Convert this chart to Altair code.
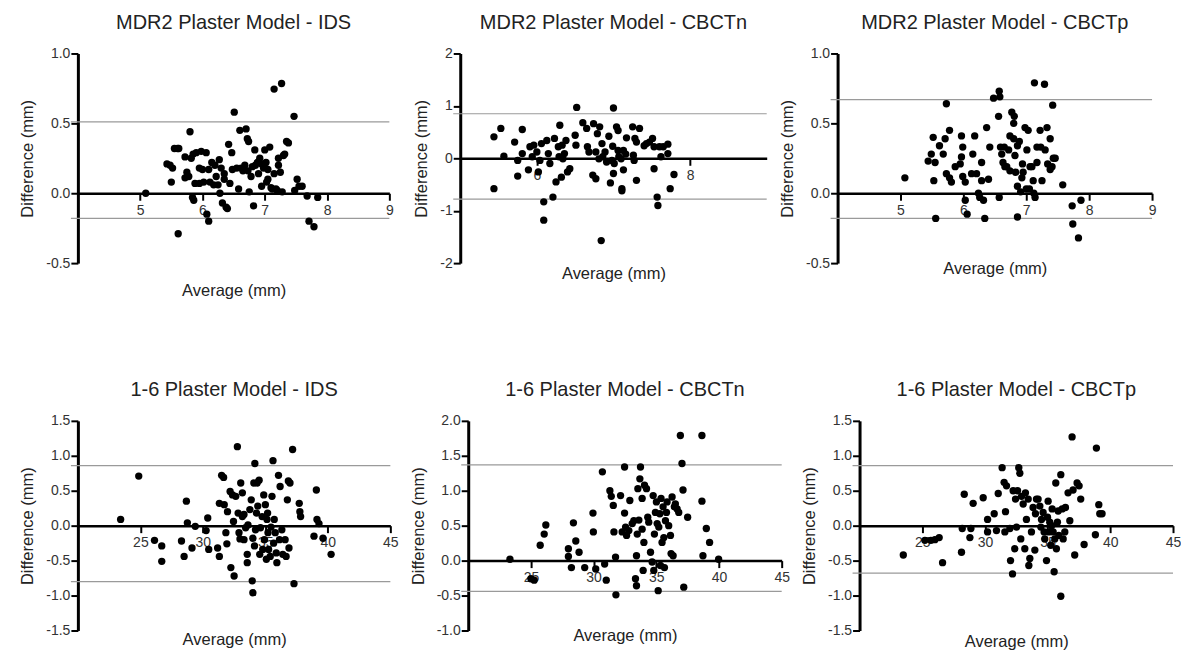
import altair as alt
import pandas as pd

# ---------------- data ----------------
# Panel 1: MDR2 Plaster Model - IDS
p1_x = [5.09, 5.61, 5.43, 5.48, 5.50, 5.52, 5.55, 5.60, 5.62, 5.80, 5.72, 5.75, 5.72, 5.78, 5.82, 5.85,
        5.84, 5.86, 5.88, 5.90, 5.95, 5.98, 6.00, 6.02, 6.06, 6.07, 6.10, 6.10, 6.12, 6.15, 6.20, 6.22,
        6.25, 6.27, 6.28, 6.30, 6.32, 6.35, 6.38, 6.40, 6.42, 6.44, 6.47, 6.48, 6.51, 6.58, 6.60, 6.62,
        6.65, 6.70, 6.72, 6.73, 6.74, 6.75, 6.78, 6.80, 6.82, 6.84, 6.85, 6.90, 6.92, 6.95, 6.98, 7.00,
        7.02, 7.03, 7.05, 7.08, 7.10, 7.12, 7.15, 7.18, 7.20, 7.22, 7.25, 7.27, 7.28, 7.30, 7.32, 7.35,
        7.38, 7.47, 7.48, 7.52, 7.55, 7.60, 7.68, 7.71, 7.79, 7.85, 7.05, 6.88, 6.55, 6.35, 6.18, 5.95,
        7.15, 7.22, 6.95, 6.68]
p1_y = [0.00, -0.29, 0.21, 0.20, 0.08, 0.18, 0.32, 0.32, 0.32, 0.44, 0.26, 0.15, 0.11, 0.12, 0.25, 0.28,
        -0.03, -0.05, 0.07, 0.29, 0.18, 0.30, 0.17, 0.08, 0.29, -0.15, -0.20, 0.17, 0.08, 0.22, 0.20, 0.12,
        0.06, 0.24, 0.00, 0.18, -0.07, 0.10, -0.10, -0.11, 0.35, 0.07, 0.29, 0.17, 0.58, 0.03, 0.45, 0.18,
        0.16, 0.46, 0.39, 0.16, 0.37, 0.01, 0.12, 0.19, -0.09, 0.31, 0.20, 0.14, 0.25, 0.05, 0.18, 0.31,
        0.22, 0.08, 0.17, 0.33, 0.04, 0.03, 0.745, 0.03, 0.02, 0.25, 0.15, 0.785, 0.01, 0.27, 0.28, 0.37,
        0.36, 0.55, 0.02, 0.10, 0.05, 0.05, -0.02, -0.20, -0.24, -0.03, 0.10, 0.22, 0.18, 0.14, 0.06, 0.07,
        0.14, 0.20, 0.21, 0.20]

# Panel 2: MDR2 Plaster Model - CBCTn
p2_x = [5.44, 5.44, 5.53, 5.57, 5.71, 5.75, 5.75, 5.81, 5.81, 5.89, 5.91, 5.94, 5.96, 6.00, 6.02, 6.04,
        6.06, 6.09, 6.09, 6.13, 6.15, 6.17, 6.21, 6.23, 6.25, 6.28, 6.29, 6.30, 6.32, 6.33, 6.34, 6.36,
        6.38, 6.40, 6.43, 6.50, 6.51, 6.52, 6.60, 6.65, 6.66, 6.68, 6.73, 6.74, 6.77, 6.77, 6.79, 6.81,
        6.82, 6.84, 6.85, 6.86, 6.89, 6.91, 6.94, 6.96, 6.98, 6.99, 7.00, 7.00, 7.01, 7.04, 7.06, 7.06,
        7.07, 7.10, 7.13, 7.11, 7.11, 7.13, 7.16, 7.17, 7.25, 7.26, 7.27, 7.28, 7.30, 7.30, 7.34, 7.40,
        7.43, 7.47, 7.51, 7.53, 7.53, 7.57, 7.58, 7.60, 7.62, 7.65, 7.71, 7.71, 7.74, 7.79]
p2_y = [0.41, -0.58, 0.57, 0.04, 0.31, -0.04, -0.34, 0.55, 0.09, -0.22, 0.22, 0.03, 0.25, 0.12, -0.26, -0.04,
        0.28, -0.83, -1.18, 0.34, 0.09, -0.10, -0.74, 0.38, -0.45, 0.22, 0.03, 0.63, -0.36, 0.25, -0.01, 0.09,
        0.34, -0.26, -0.20, 0.44, 0.25, 0.97, 0.68, 0.57, 0.22, 0.12, -0.32, 0.66, -0.39, 0.12, 0.47, -0.01,
        0.60, -1.57, 0.28, 0.03, 0.12, -0.07, 0.42, -0.47, -0.04, 0.23, 0.96, -0.29, -0.10, 0.60, 0.53, 0.15,
        0.03, -0.01, -0.22, -0.58, -0.62, 0.15, 0.08, 0.39, 0.60, 0.06, -0.04, 0.38, 0.31, -0.42, 0.57, 0.24,
        0.28, 0.31, 0.38, 0.22, -0.20, -0.74, -0.90, 0.22, 0.03, 0.22, 0.27, 0.09, -0.58, -0.31]

# Panel 3: MDR2 Plaster Model - CBCTp
p3_x = [5.07, 5.52, 5.49, 5.44, 5.55, 5.53, 5.56, 5.62, 5.68, 5.71, 5.73, 5.78, 5.73, 5.78, 5.81, 5.87,
        5.95, 5.97, 5.99, 5.97, 5.99, 6.03, 6.03, 6.06, 6.13, 6.15, 6.18, 6.21, 6.24, 6.26, 6.29, 6.29,
        6.32, 6.34, 6.37, 6.40, 6.42, 6.48, 6.56, 6.57, 6.58, 6.57, 6.59, 6.61, 6.63, 6.65, 6.66, 6.69,
        6.72, 6.74, 6.77, 6.80, 6.81, 6.74, 6.80, 6.82, 6.83, 6.86, 6.86, 6.86, 6.89, 6.91, 6.93, 6.94,
        6.95, 6.98, 7.00, 7.01, 7.03, 7.05, 7.06, 7.09, 7.11, 7.13, 7.12, 7.14, 7.17, 7.17, 7.22, 7.23,
        7.25, 7.29, 7.30, 7.33, 7.34, 7.38, 7.38, 7.41, 7.42, 7.43, 7.46, 7.58, 7.73, 7.74, 7.83, 7.87]
p3_y = [0.11, 0.40, 0.28, 0.23, 0.22, 0.09, -0.18, 0.34, 0.28, 0.39, 0.64, 0.45, 0.14, 0.11, 0.08, 0.19,
        0.21, 0.41, 0.33, 0.26, 0.12, 0.08, -0.05, -0.15, 0.14, 0.28, 0.41, 0.14, 0.00, -0.03, 0.09, 0.22,
        -0.05, -0.18, 0.47, 0.10, 0.33, 0.68, 0.55, 0.73, 0.69, -0.03, 0.33, 0.28, 0.22, 0.33, 0.19, 0.19,
        0.31, 0.16, 0.58, 0.50, 0.55, 0.41, 0.39, 0.27, 0.15, 0.34, 0.05, -0.17, 0.37, 0.01, 0.11, 0.21,
        0.15, 0.47, 0.03, 0.31, 0.45, 0.03, 0.19, 0.19, 0.09, 0.79, 0.00, -0.03, 0.33, 0.22, 0.45, 0.33,
        0.09, 0.78, 0.31, 0.47, 0.21, 0.17, 0.39, 0.19, 0.63, 0.25, 0.25, 0.06, -0.09, -0.22, -0.32, -0.05]

# Panel 4: 1-6 Plaster Model - IDS
p4_x = [23.42, 24.87, 26.13, 26.71, 26.71, 28.29, 28.50, 28.68, 28.76, 29.13, 29.39, 30.26, 30.39, 30.47,
        31.18, 31.32, 31.32, 31.50, 31.66, 31.71, 31.84, 31.92, 31.97, 32.18, 32.24, 32.37, 32.45, 32.50,
        32.63, 32.76, 32.82, 32.89, 32.97, 33.03, 33.16, 33.16, 33.29, 33.29, 33.42, 33.55, 33.55, 33.61,
        33.76, 33.87, 33.95, 34.00, 34.00, 34.08, 34.13, 34.16, 34.21, 34.29, 34.34, 34.39, 34.50, 34.55,
        34.61, 34.74, 34.79, 34.87, 34.92, 35.00, 35.08, 35.13, 35.18, 35.21, 35.26, 35.39, 35.45, 35.53,
        35.61, 35.66, 35.71, 35.79, 35.87, 35.92, 36.05, 36.13, 36.18, 36.32, 36.39, 36.58, 36.66, 36.76,
        36.84, 36.97, 37.18, 36.89, 37.29, 37.71, 37.76, 37.82, 38.89, 39.08, 39.13, 39.29, 39.61, 40.26]
p4_y = [0.09, 0.71, -0.21, -0.29, -0.51, -0.22, -0.44, 0.35, 0.04, -0.32, -0.01, -0.07, 0.11, -0.34,
        -0.32, -0.44, 0.32, 0.72, 0.69, 0.30, -0.10, -0.26, 0.20, 0.49, -0.60, 0.44, 0.06, -0.72,
        0.42, 1.13, 0.18, -0.10, -0.19, 0.61, 0.13, 0.47, -0.20, 0.16, -0.03, -0.41, -0.53, 0.01,
        0.23, 0.37, -0.79, -0.96, -0.18, 0.61, -0.29, 0.89, -0.06, 0.18, 0.61, 0.28, 0.65, -0.41,
        -0.03, 0.13, -0.34, 0.44, -0.20, 0.30, -0.48, 0.09, 0.18, -0.10, -0.34, -0.44, -0.02, 0.42,
        0.93, -0.25, 0.09, -0.10, -0.39, -0.53, 0.72, -0.20, 0.56, -0.06, -0.41, -0.20, -0.44, 0.37,
        0.64, 0.61, 1.09, -0.32, -0.83, 0.32, 0.20, 0.13, -0.15, 0.51, 0.09, 0.03, -0.18, -0.41]

# Panel 5: 1-6 Plaster Model - CBCTn
p5_x = [23.33, 25.00, 25.26, 25.74, 26.06, 26.19, 27.99, 27.99, 28.23, 28.39, 28.58, 28.84, 29.29, 29.95,
        29.98, 30.17, 30.70, 30.88, 31.01, 31.30, 31.41, 31.57, 31.62, 31.75, 31.78, 32.15, 32.28, 32.47,
        32.47, 32.55, 32.63, 32.81, 32.89, 33.08, 33.21, 33.34, 33.42, 33.42, 33.48, 33.53, 33.61, 33.69,
        33.74, 33.87, 33.87, 33.95, 34.01, 34.06, 34.22, 34.32, 34.40, 34.54, 34.67, 34.75, 34.80, 34.85,
        34.93, 35.01, 35.07, 35.15, 35.20, 35.28, 35.33, 35.38, 35.46, 35.54, 35.60, 35.65, 35.73, 35.81,
        35.86, 35.99, 36.13, 36.18, 36.26, 36.34, 36.44, 36.52, 36.66, 36.79, 36.92, 37.05, 37.13, 37.19,
        37.50, 38.64, 38.64, 38.72, 38.99, 39.25, 39.97]
p5_y = [0.02, -0.26, -0.28, 0.22, 0.38, 0.51, 0.17, 0.06, -0.10, 0.54, 0.28, 0.12, -0.10, 0.68,
        0.41, -0.12, 1.27, -0.05, -0.28, 1.00, 0.92, 0.79, 0.41, 0.05, -0.49, 0.93, 0.41, 1.34,
        0.68, 0.48, 0.36, 0.43, 0.86, 0.53, 0.57, -0.26, -0.36, 0.07, 0.38, 1.03, 0.58, 1.17,
        1.34, 0.89, 0.45, -0.14, 0.26, 1.08, 1.03, 0.62, 0.55, 0.12, -0.02, 0.93, -0.14, 0.38,
        0.69, 0.84, 0.53, -0.43, 0.48, 0.67, -0.07, 0.89, 0.26, 0.77, 0.33, -0.10, 0.57, 0.69,
        0.84, 0.50, 0.36, 0.10, 0.91, 0.07, 0.77, 0.81, 0.74, 0.69, 1.79, 1.39, 1.01, -0.38,
        0.62, 0.85, 1.79, 0.07, 0.46, 0.26, 0.02]

# Panel 6: 1-6 Plaster Model - CBCTp
p6_x = [23.49, 25.21, 25.69, 26.01, 26.35, 26.62, 28.13, 28.19, 28.35, 28.80, 28.88, 29.06, 29.86, 30.21,
        30.21, 30.74, 30.92, 31.06, 31.37, 31.53, 31.59, 31.64, 31.72, 31.99, 32.04, 32.20, 32.25, 32.38,
        32.44, 32.52, 32.60, 32.70, 32.78, 32.86, 32.92, 33.05, 33.18, 33.23, 33.31, 33.45, 33.50, 33.58,
        33.71, 33.84, 33.98, 34.03, 34.11, 34.24, 34.38, 34.46, 34.51, 34.64, 34.72, 34.77, 34.91, 34.99,
        35.04, 35.09, 35.17, 35.25, 35.31, 35.36, 35.44, 35.52, 35.57, 35.65, 35.70, 35.78, 35.84, 35.89,
        36.05, 36.05, 36.16, 36.24, 36.37, 36.42, 36.63, 36.77, 36.95, 37.03, 37.16, 37.35, 37.51, 37.64,
        37.91, 38.81, 38.89, 39.08, 39.16, 39.34]
p6_y = [-0.42, -0.21, -0.21, -0.20, -0.17, -0.53, -0.38, -0.04, 0.45, -0.17, -0.04, 0.32, 0.40, 0.09,
        -0.09, 0.17, -0.07, 0.46, 0.83, 0.62, -0.09, 0.20, 0.57, -0.04, -0.50, -0.69, 0.50, -0.33,
        0.38, -0.02, 0.50, 0.83, 0.75, -0.19, 0.42, 0.31, -0.33, 0.47, 0.09, 0.38, -0.57, -0.47,
        -0.09, 0.26, -0.35, 0.17, 0.38, 0.38, 0.28, -0.02, 0.09, 0.19, -0.09, -0.19, -0.50, 0.12,
        0.35, -0.09, 0.05, -0.28, 0.00, 0.24, -0.09, -0.66, -0.19, 0.61, -0.33, 0.05, 0.21, -0.14,
        0.73, -1.01, 0.24, -0.19, -0.09, 0.26, 0.47, 0.07, 1.27, 0.51, -0.42, 0.61, 0.57, 0.38,
        -0.27, -0.13, 1.11, 0.30, 0.17, 0.17]

titles = ["MDR2 Plaster Model - IDS", "MDR2 Plaster Model - CBCTn", "MDR2 Plaster Model - CBCTp",
          "1-6 Plaster Model - IDS", "1-6 Plaster Model - CBCTn", "1-6 Plaster Model - CBCTp"]
xs_all = [p1_x, p2_x, p3_x, p4_x, p5_x, p6_x]
ys_all = [p1_y, p2_y, p3_y, p4_y, p5_y, p6_y]
x_domains = [[4, 9], [5, 9], [4, 9], [20, 45], [20, 45], [20, 45]]
x_ticks = [[5, 6, 7, 8, 9], [6, 8], [5, 6, 7, 8, 9], [25, 30, 35, 40, 45], [25, 30, 35, 40, 45], [25, 30, 35, 40, 45]]
y_domains = [[-0.5, 1.0], [-2, 2], [-0.5, 1.0], [-1.5, 1.5], [-1.0, 2.0], [-1.5, 1.5]]
y_ticks = [[-0.5, 0, 0.5, 1.0], [-2, -1, 0, 1, 2], [-0.5, 0, 0.5, 1.0],
           [-1.5, -1.0, -0.5, 0, 0.5, 1.0, 1.5], [-1.0, -0.5, 0, 0.5, 1.0, 1.5, 2.0],
           [-1.5, -1.0, -0.5, 0, 0.5, 1.0, 1.5]]
y_formats = [".1f", ".0f", ".1f", ".1f", ".1f", ".1f"]
upper_limits = [0.51, 0.85, 0.67, 0.86, 1.37, 0.86]
lower_limits = [-0.18, -0.78, -0.18, -0.80, -0.44, -0.68]

# layout / style (not data)
H = 210
widths = [312, 307, 315, 313, 314, 314]
xtitle_gap = [27, 10, 5, 9, 5, 11]
FONT = "Liberation Sans"
LBL = "replace(datum.label, '\u2212', '-')"


def panel(i):
    df = pd.DataFrame({"avg": xs_all[i], "diff": ys_all[i]})
    lim = pd.DataFrame({"diff": [upper_limits[i], lower_limits[i]]})
    yd = y_domains[i]
    off = H * (0 - yd[0]) / (yd[1] - yd[0])
    xscale = alt.Scale(domain=x_domains[i], nice=False, zero=False)
    yscale = alt.Scale(domain=yd, nice=False, zero=False)
    xaxis = alt.Axis(values=x_ticks[i], offset=-off, title="Average (mm)",
                     titleY=off + xtitle_gap[i], titleBaseline="middle",
                     domainColor="black", domainWidth=2.5, tickColor="black", tickWidth=2,
                     tickSize=7, labelPadding=3, labelFontSize=14, labelColor="#333",
                     labelFlush=False, labelOverlap=False, titleFontSize=16.5,
                     titleFontWeight="normal", titleColor="#222", grid=False, labelExpr=LBL)
    yaxis = alt.Axis(values=y_ticks[i], format=y_formats[i], title="Difference (mm)",
                     domainColor="black", domainWidth=3, tickColor="black", tickWidth=2,
                     tickSize=7, labelPadding=1, labelFontSize=14, labelColor="#333",
                     labelFlush=False, labelOverlap=False, titleFontSize=16.5, titlePadding=10,
                     titleFontWeight="normal", titleColor="#222", grid=False, labelExpr=LBL)
    rules = alt.Chart(lim).mark_rule(color="#9a9a9a", strokeWidth=1.2).encode(
        y=alt.Y("diff:Q", scale=yscale, axis=yaxis),
        x=alt.value(-7), x2=alt.value(widths[i]))
    pts = alt.Chart(df).mark_circle(size=54, color="black", opacity=1).encode(
        x=alt.X("avg:Q", scale=xscale, axis=xaxis),
        y=alt.Y("diff:Q", scale=yscale, axis=yaxis))
    return alt.layer(rules, pts).properties(
        width=widths[i], height=H,
        title=alt.TitleParams(titles[i], anchor="middle", fontSize=20, fontWeight="normal",
                              color="#222", font=FONT, offset=-2, baseline="alphabetic"))


row1 = alt.hconcat(panel(0), panel(1), panel(2), spacing=71, bounds="flush")
row2 = alt.hconcat(panel(3), panel(4), panel(5), spacing=78, bounds="flush")
chart = alt.vconcat(row1, row2, spacing=368, bounds="flush").properties(
    padding={"left": 11, "top": 4, "right": 0, "bottom": 0}
).configure(font=FONT).configure_view(stroke=None)

chart.save("out.html", embed_options={"renderer": "svg", "actions": False})
